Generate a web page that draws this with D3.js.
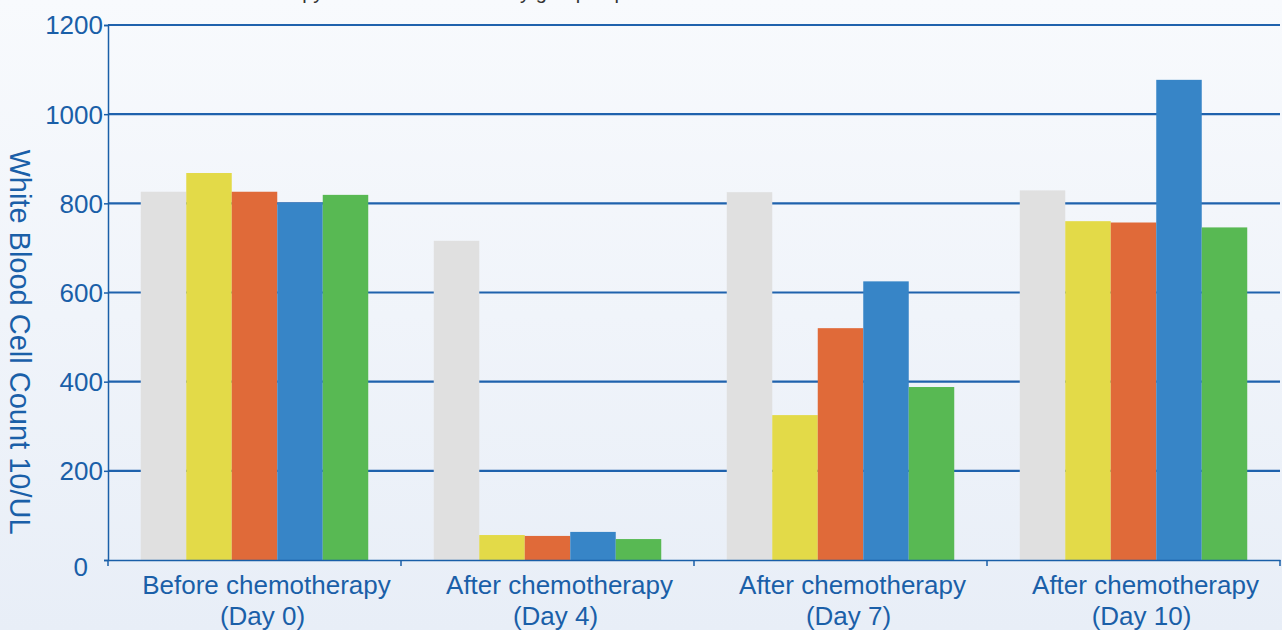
<!DOCTYPE html>
<html>
<head>
<meta charset="utf-8">
<script src="https://cdn.jsdelivr.net/npm/d3@7"></script>
<style>
  body { margin: 0; background: #f4f7fb; }
  svg { display: block; font-family: "Liberation Sans", Arial, sans-serif; }
</style>
</head>
<body>
<div class="chart"></div>
<script>
const width = 1282;
const height = 630;
const margin = {top: 25, right: 2, bottom: 70, left: 108};

// data
const categories = [
    ["Before chemotherapy", "(Day 0)"],
    ["After chemotherapy", "(Day 4)"],
    ["After chemotherapy", "(Day 7)"],
    ["After chemotherapy", "(Day 10)"]
];
const seriesNames = ["Group 1", "Group 2", "Group 3", "Group 4", "Group 5"];
const seriesColors = ["#e0e0e0", "#e3da48", "#e06a39", "#3785c7", "#58b953"];
const group1 = [826, 716, 825, 829];
const group2 = [868, 56, 325, 760];
const group3 = [826, 54, 520, 757];
const group4 = [801, 63, 625, 1077];
const group5 = [819, 47, 388, 746];
const yTicks = [0, 200, 400, 600, 800, 1000, 1200];

const seriesValues = [group1, group2, group3, group4, group5];
const data = categories.map((c, i) => ({
    cat: i,
    values: seriesNames.map((s, j) => ({key: s, color: seriesColors[j], value: seriesValues[j][i]}))
}));

let svg = d3.select(".chart")
    .append("svg")
    .attr("width", width)
    .attr("height", height);

let defs = svg.append("defs");
let grad = defs.append("linearGradient").attr("id", "bg").attr("x1", 0).attr("y1", 0).attr("x2", 0).attr("y2", 1);
grad.append("stop").attr("offset", "0%").attr("stop-color", "#f8fafd");
grad.append("stop").attr("offset", "100%").attr("stop-color", "#e8eef7");
svg.append("rect").attr("width", width).attr("height", height).attr("fill", "url(#bg)");

// title, mostly cut off at the top like in the reference
svg.append("text")
    .attr("x", 118)
    .attr("y", -1)
    .attr("fill", "#333")
    .attr("font-size", 20)
    .text("Effect of chemotherapy on white blood cells by group of patients");

let x0 = d3.scaleBand()
    .domain(d3.range(categories.length))
    .range([margin.left, width - margin.right]);

let x1 = d3.scaleBand()
    .domain(seriesNames)
    .range([0, x0.bandwidth()])
    .paddingOuter(0.72);

let y = d3.scaleLinear()
    .domain([0, 1200])
    .range([height - margin.bottom, margin.top]);

const blue = "#1a5fa8";

// gridlines
svg.append("g")
    .selectAll("line")
    .data(yTicks.filter(d => d > 0))
    .enter()
    .append("line")
    .attr("x1", margin.left)
    .attr("x2", width - margin.right)
    .attr("y1", d => y(d))
    .attr("y2", d => y(d))
    .attr("stroke", "#1f62ad")
    .attr("stroke-width", 2.2);

// bars
svg.append("g")
    .selectAll("g")
    .data(data)
    .enter()
    .append("g")
    .attr("transform", d => `translate(${x0(d.cat)},0)`)
    .selectAll("rect")
    .data(d => d.values)
    .enter()
    .append("rect")
    .attr("x", d => x1(d.key))
    .attr("width", x1.bandwidth())
    .attr("y", d => y(d.value))
    .attr("height", d => y(0) - y(d.value))
    .attr("fill", d => d.color);

// y axis
let yAxis = svg.append("g")
    .attr("transform", `translate(${margin.left},0)`)
    .call(d3.axisLeft(y).tickValues(yTicks).tickFormat(d3.format("d")).tickSize(4).tickPadding(1));
yAxis.select(".domain").attr("stroke", blue).attr("stroke-width", 1.5);
yAxis.selectAll(".tick line").attr("stroke", blue).attr("stroke-width", 1.5);
yAxis.selectAll(".tick text")
    .attr("fill", blue)
    .attr("font-size", 26)
    .attr("font-family", "Liberation Sans, Arial, sans-serif")
    .attr("dx", d => d === 0 ? -15 : 0)
    .attr("dy", d => d === 0 ? "0.6em" : "0.34em");

// x axis
let xAxis = svg.append("g")
    .attr("transform", `translate(0,${y(0)})`)
    .call(d3.axisBottom(x0).tickValues([]).tickSizeOuter(0));
xAxis.select(".domain").attr("stroke", blue).attr("stroke-width", 1.5);

svg.append("g")
    .selectAll("line")
    .data(d3.range(categories.length + 1))
    .enter()
    .append("line")
    .attr("x1", d => margin.left + d * x0.step())
    .attr("x2", d => margin.left + d * x0.step())
    .attr("y1", y(0))
    .attr("y2", y(0) + 6)
    .attr("stroke", blue)
    .attr("stroke-width", 1.5);

let labels = svg.append("g")
    .selectAll("text")
    .data(categories)
    .enter()
    .append("text")
    .attr("text-anchor", "middle")
    .attr("fill", blue)
    .attr("font-size", 26);
labels.append("tspan").attr("x", (d, i) => x0(i) + x0.bandwidth() / 2 + 12).attr("y", 594).text(d => d[0]);
labels.append("tspan").attr("x", (d, i) => x0(i) + x0.bandwidth() / 2 + 8).attr("y", 625).text(d => d[1]);

// y axis title
svg.append("text")
    .attr("transform", "translate(10,342) rotate(90)")
    .attr("text-anchor", "middle")
    .attr("fill", blue)
    .attr("font-size", 29)
    .text("White Blood Cell Count 10/UL");
</script>
</body>
</html>
